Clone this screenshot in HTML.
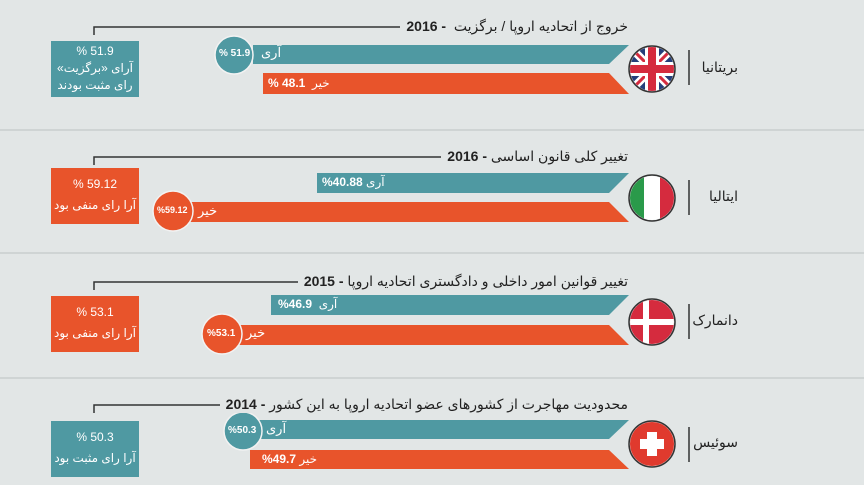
<!DOCTYPE html>
<html><head><meta charset="utf-8"><style>
body{margin:0;width:864px;height:485px;overflow:hidden;background:#e2e6e6;font-family:"Liberation Sans","DejaVu Sans",sans-serif;}
.t{position:absolute;white-space:nowrap;color:#222;direction:ltr;}
.ti{position:absolute;white-space:nowrap;color:#222;direction:ltr;right:236px;font-size:14px;background:#e2e6e6;padding-left:6px;}
.w{color:#fff;}
.box{position:absolute;left:51px;width:88px;height:56px;color:#fff;text-align:center;font-size:12px;line-height:17px;padding-top:2px;box-sizing:border-box;white-space:nowrap;}
.cn{position:absolute;right:126px;font-size:14px;color:#222;direction:rtl;white-space:nowrap;}
</style></head><body>
<svg width="864" height="485" style="position:absolute;left:0;top:0">
<g fill="none" stroke="#cfd4d4" stroke-width="2"><line x1="0" y1="130" x2="864" y2="130"/><line x1="0" y1="253" x2="864" y2="253"/><line x1="0" y1="378" x2="864" y2="378"/></g>
<g stroke="#333" stroke-width="1.5" fill="none">
<polyline points="94,35 94,27 620,27"/><polyline points="94,165 94,157 620,157"/><polyline points="94,290 94,282 620,282"/><polyline points="94,413 94,405 620,405"/>
<line x1="689" y1="50" x2="689" y2="85"/><line x1="689" y1="180" x2="689" y2="215"/><line x1="689" y1="304" x2="689" y2="339"/><line x1="689" y1="427" x2="689" y2="462"/>
</g>
<g fill="#4f99a2">
<polygon points="253,45 629,45 609,64 253,64"/>
<polygon points="317,173 629,173 609,193 317,193"/>
<polygon points="271,295 629,295 609,315 271,315"/>
<polygon points="243,420 629,420 609,439 243,439"/>
</g>
<g fill="#e8542b">
<polygon points="263,73 609,73 629,94 263,94"/>
<polygon points="173,202 609,202 629,222 173,222"/>
<polygon points="222,325 609,325 629,345 222,345"/>
<polygon points="250,450 609,450 629,469 250,469"/>
</g>
<g stroke="#f2f2f2" stroke-width="1.5">
<circle cx="234" cy="55" r="19" fill="#4f99a2"/>
<circle cx="173" cy="211" r="20" fill="#e8542b"/>
<circle cx="222" cy="334" r="20" fill="#e8542b"/>
<circle cx="243" cy="431" r="19" fill="#4f99a2"/>
</g>
<defs>
<clipPath id="c1"><circle cx="652" cy="69" r="22"/></clipPath>
<clipPath id="c2"><circle cx="652" cy="198" r="22"/></clipPath>
<clipPath id="c3"><circle cx="652" cy="322" r="22"/></clipPath>
<clipPath id="c4"><circle cx="652" cy="444" r="22"/></clipPath>
</defs>
<g clip-path="url(#c1)">
<rect x="628" y="45" width="48" height="48" fill="#243e7a"/>
<line x1="628" y1="45" x2="676" y2="93" stroke="#fff" stroke-width="8"/><line x1="676" y1="45" x2="628" y2="93" stroke="#fff" stroke-width="8"/>
<line x1="628" y1="45" x2="676" y2="93" stroke="#d52b3e" stroke-width="3"/><line x1="676" y1="45" x2="628" y2="93" stroke="#d52b3e" stroke-width="3"/>
<rect x="645" y="45" width="14" height="48" fill="#fff"/><rect x="628" y="62" width="48" height="14" fill="#fff"/>
<rect x="648" y="45" width="8" height="48" fill="#d52b3e"/><rect x="628" y="65" width="48" height="8" fill="#d52b3e"/>
</g>
<g clip-path="url(#c2)"><rect x="628" y="174" width="16" height="48" fill="#2a9a4a"/><rect x="644" y="174" width="16" height="48" fill="#fff"/><rect x="660" y="174" width="16" height="48" fill="#d52b3e"/></g>
<g clip-path="url(#c3)"><rect x="628" y="298" width="48" height="48" fill="#d52b3e"/><rect x="643" y="298" width="6" height="48" fill="#fff"/><rect x="628" y="319" width="48" height="6" fill="#fff"/></g>
<g clip-path="url(#c4)"><rect x="628" y="420" width="48" height="48" fill="#e03a2e"/><rect x="647" y="432" width="10" height="24" fill="#fff"/><rect x="640" y="439" width="24" height="10" fill="#fff"/></g>
<g fill="none" stroke="#333" stroke-width="1.5">
<circle cx="652" cy="69" r="23"/><circle cx="652" cy="198" r="23"/><circle cx="652" cy="322" r="23"/><circle cx="652" cy="444" r="23"/>
</g>
</svg>

<div class="ti" style="top:18px"><b>2016 -</b>&nbsp; <span dir="rtl">خروج از اتحادیه اروپا / برگزیت</span></div>
<div class="ti" style="top:148px"><b>2016 -</b> <span dir="rtl">تغییر کلی قانون اساسی</span></div>
<div class="ti" style="top:273px"><b>2015 -</b> <span dir="rtl">تغییر قوانین امور داخلی و دادگستری اتحادیه اروپا</span></div>
<div class="ti" style="top:396px"><b>2014 -</b> <span dir="rtl">محدودیت مهاجرت از کشورهای عضو اتحادیه اروپا به این کشور</span></div>

<div class="cn" style="top:59px">بریتانیا</div>
<div class="cn" style="top:188px">ایتالیا</div>
<div class="cn" style="top:312px">دانمارک</div>
<div class="cn" style="top:434px">سوئیس</div>

<div class="t w" style="left:219px;top:48px;font-size:10px;font-weight:bold">% 51.9</div>
<div class="t w" style="left:261px;top:45px;font-size:13px" dir="rtl">آری</div>
<div class="t w" style="left:268px;top:76px;font-size:12px"><b>% 48.1</b>&nbsp; <span dir="rtl">خیر</span></div>

<div class="t w" style="left:322px;top:175px;font-size:12px"><b>%40.88</b> <span dir="rtl">آری</span></div>
<div class="t w" style="left:157px;top:205px;font-size:9px;font-weight:bold">%59.12</div>
<div class="t w" style="left:198px;top:203px;font-size:13px" dir="rtl">خیر</div>

<div class="t w" style="left:278px;top:297px;font-size:12px"><b>%46.9</b>&nbsp; <span dir="rtl">آری</span></div>
<div class="t w" style="left:207px;top:328px;font-size:10px;font-weight:bold">%53.1</div>
<div class="t w" style="left:246px;top:325px;font-size:13px" dir="rtl">خیر</div>

<div class="t w" style="left:228px;top:425px;font-size:10px;font-weight:bold">%50.3</div>
<div class="t w" style="left:266px;top:421px;font-size:13px" dir="rtl">آری</div>
<div class="t w" style="left:262px;top:452px;font-size:12px"><b>%49.7</b> <span dir="rtl">خیر</span></div>

<div class="box" style="top:41px;background:#4f99a2">% 51.9<br><span dir="rtl">آرای «برگزیت»</span><br><span dir="rtl">رای مثبت بودند</span></div>
<div class="box" style="top:168px;background:#e8542b;padding-top:6px;line-height:21px">% 59.12<br><span dir="rtl">آرا رای منفی بود</span></div>
<div class="box" style="top:296px;background:#e8542b;padding-top:6px;line-height:21px">% 53.1<br><span dir="rtl">آرا رای منفی بود</span></div>
<div class="box" style="top:421px;background:#4f99a2;padding-top:6px;line-height:21px">% 50.3<br><span dir="rtl">آرا رای مثبت بود</span></div>
</body></html>
